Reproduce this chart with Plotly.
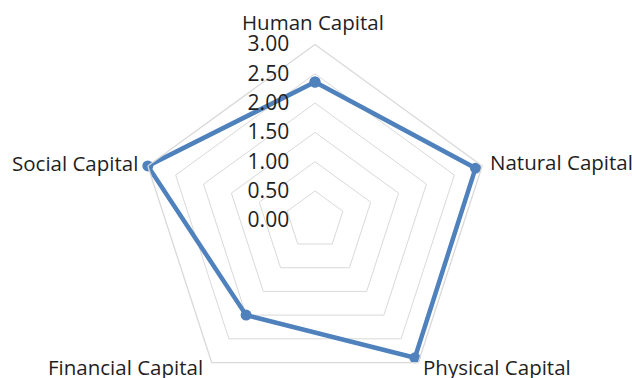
import plotly.graph_objects as go

categories = ["Human Capital", "Natural Capital", "Physical Capital", "Financial Capital", "Social Capital"]
values = [2.36, 2.88, 2.90, 2.00, 3.00]
radial_ticks = [0, 0.5, 1.0, 1.5, 2.0, 2.5, 3.0]

W, H = 632, 400
cx, cy, R = 315, 220.3, 175.8

fig = go.Figure()
fig.add_trace(go.Scatterpolar(
    r=values + values[:1],
    theta=categories + categories[:1],
    mode="lines+markers",
    line=dict(color="#4F81BD", width=4.5),
    marker=dict(color="#4F81BD", size=11),
    showlegend=False,
))

# category label placement (pixels from top-left): x, y, xanchor
label_pos = [
    (313, 22, "center"),
    (488, 162, "left"),
    (421, 367, "left"),
    (205, 367, "right"),
    (140, 163, "right"),
]
for cat, (x, y, xa) in zip(categories, label_pos):
    fig.add_annotation(
        text=cat, xref="paper", yref="paper",
        x=x / W, y=(H - y) / H, xanchor=xa, yanchor="middle",
        showarrow=False, font=dict(family="Open Sans", size=20.5, color="#1F1F1F"),
    )

fig.update_layout(
    width=W, height=H,
    margin=dict(l=0, r=0, t=0, b=0),
    paper_bgcolor="white",
    font=dict(family="Open Sans", size=20, color="#1F1F1F"),
    polar=dict(
        bgcolor="white",
        gridshape="linear",
        domain=dict(x=[(cx - R) / W, (cx + R) / W], y=[(H - cy - R) / H, (H - cy + R) / H]),
        radialaxis=dict(
            range=[0, 3], tickvals=radial_ticks, tickformat=".2f",
            angle=90, tickangle=90, side="counterclockwise",
            showline=False, showgrid=True, gridcolor="#D9D9D9", gridwidth=1.3,
            ticks="outside", ticklen=18, tickcolor="rgba(0,0,0,0)",
            tickfont=dict(size=21, color="#1F1F1F"),
        ),
        angularaxis=dict(
            rotation=90, direction="clockwise",
            showgrid=False, showline=True, linecolor="#D9D9D9", linewidth=1.3,
            ticks="", showticklabels=False,
        ),
    ),
)

fig.write_html("out.html", post_script="document.documentElement.style.overflow='hidden';document.body.style.overflow='hidden';")
